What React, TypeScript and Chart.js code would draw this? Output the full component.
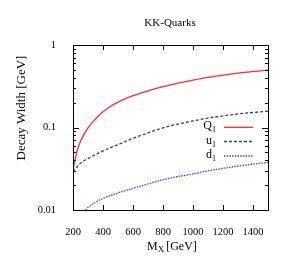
import React, { useEffect, useRef } from "react";
import { Chart, registerables } from "chart.js";

Chart.register(...registerables);

const chartTitle = "KK-Quarks";
const yAxisTitle = "Decay Width [GeV]";
const xTickValues = [200, 400, 600, 800, 1000, 1200, 1400];
const yLabelValues = [0.01, 0.1, 1];

const massQ = [200, 225, 250, 300, 350, 400, 450, 500, 600, 700, 800, 900, 1000, 1100, 1200, 1300, 1400, 1500];
const q1Width = [0.031, 0.05, 0.068, 0.099, 0.127, 0.155, 0.18, 0.203, 0.243, 0.278, 0.312, 0.345, 0.375, 0.405, 0.432, 0.457, 0.477, 0.495];
const u1Width = [0.029, 0.033, 0.037, 0.042, 0.047, 0.052, 0.057, 0.062, 0.074, 0.086, 0.099, 0.11, 0.12, 0.13, 0.138, 0.146, 0.152, 0.158];

const massD = [270, 300, 350, 400, 500, 600, 700, 800, 900, 1000, 1100, 1200, 1300, 1400, 1500];
const d1Width = [0.0095, 0.0107, 0.0124, 0.0138, 0.0161, 0.0183, 0.0207, 0.0233, 0.0254, 0.0274, 0.0298, 0.032, 0.0341, 0.036, 0.0377];

const seriesNames = ["Q", "u", "d"];
const seriesColors = ["#ff2a2a", "#404040", "#3a3aff"];
const seriesDash = [[], [3, 2], [1.5, 1.2]];

const serif = "'Liberation Serif', 'Times New Roman', serif";

const framePlugin = {
  id: "framePlugin",
  afterDraw(chart: any) {
    const { ctx, chartArea, scales } = chart;
    const { left, right, top, bottom } = chartArea;
    const xs = scales.x;
    const ys = scales.y;
    ctx.save();
    ctx.strokeStyle = "#000";
    ctx.lineWidth = 1;
    ctx.setLineDash([]);
    ctx.strokeRect(Math.round(left) + 0.5, Math.round(top) + 0.5, Math.round(right - left), Math.round(bottom - top));
    ctx.beginPath();
    for (const v of xTickValues) {
      const px = Math.round(xs.getPixelForValue(v)) + 0.5;
      ctx.moveTo(px, bottom);
      ctx.lineTo(px, bottom - 5);
      ctx.moveTo(px, top);
      ctx.lineTo(px, top + 5);
    }
    for (const d of [0.01, 0.1]) {
      for (let k = 1; k <= 9; k++) {
        const v = d * k;
        const py = Math.round(ys.getPixelForValue(v)) + 0.5;
        const len = k === 1 ? 6 : 3;
        ctx.moveTo(left, py);
        ctx.lineTo(left + len, py);
        ctx.moveTo(right, py);
        ctx.lineTo(right - len, py);
      }
    }
    ctx.stroke();

    ctx.fillStyle = "#000";
    ctx.textBaseline = "middle";
    ctx.textAlign = "center";
    ctx.font = `11px ${serif}`;
    ctx.fillText(chartTitle, 170, 23.5);

    // x title with subscript
    ctx.textAlign = "left";
    ctx.font = `12px ${serif}`;
    let x0 = 147;
    ctx.fillText("M", x0, 246.5);
    x0 += ctx.measureText("M").width;
    ctx.font = `9px ${serif}`;
    ctx.fillText("X", x0, 250);
    x0 += ctx.measureText("X").width + 2;
    ctx.font = `12px ${serif}`;
    ctx.fillText("[GeV]", x0, 246.5);

    // y title
    ctx.save();
    ctx.translate(22, 108);
    ctx.rotate(-Math.PI / 2);
    ctx.textAlign = "center";
    ctx.font = `13px ${serif}`;
    ctx.fillText(yAxisTitle, 0, 0);
    ctx.restore();

    // legend
    const rowsY = [127.3, 141.5, 156];
    for (let i = 0; i < seriesNames.length; i++) {
      const y = rowsY[i];
      ctx.font = `12px ${serif}`;
      ctx.textAlign = "right";
      const subW = 4;
      ctx.fillText(seriesNames[i], 216 - subW, y - 1);
      ctx.font = `8px ${serif}`;
      ctx.textAlign = "left";
      ctx.fillText("1", 216 - subW, y + 3);
      ctx.strokeStyle = seriesColors[i];
      ctx.lineWidth = 1.3;
      ctx.setLineDash(seriesDash[i]);
      ctx.beginPath();
      ctx.moveTo(224, y);
      ctx.lineTo(253, y);
      ctx.stroke();
    }
    ctx.restore();
  },
};

export default function App() {
  const canvasRef = useRef<HTMLCanvasElement | null>(null);

  useEffect(() => {
    if (!canvasRef.current) return;
    const toPts = (xs: number[], ys: number[]) => xs.map((x, i) => ({ x, y: ys[i] }));
    const chart = new Chart(canvasRef.current, {
      type: "line",
      data: {
        datasets: [
          { label: "Q1", data: toPts(massQ, q1Width), borderColor: seriesColors[0], borderWidth: 1.3, borderDash: seriesDash[0], pointRadius: 0, cubicInterpolationMode: "monotone", fill: false },
          { label: "u1", data: toPts(massQ, u1Width), borderColor: seriesColors[1], borderWidth: 1.3, borderDash: seriesDash[1], pointRadius: 0, cubicInterpolationMode: "monotone", fill: false },
          { label: "d1", data: toPts(massD, d1Width), borderColor: seriesColors[2], borderWidth: 1.3, borderDash: seriesDash[2], pointRadius: 0, cubicInterpolationMode: "monotone", fill: false },
        ],
      },
      options: {
        responsive: false,
        animation: false,
        layout: { padding: { top: 45, right: 16, left: 0, bottom: 0 } },
        plugins: { legend: { display: false }, title: { display: false }, tooltip: { enabled: false } },
        scales: {
          x: {
            type: "linear",
            min: 200,
            max: 1500,
            grid: { display: false },
            border: { display: false },
            afterBuildTicks: (s: any) => {
              s.ticks = xTickValues.map((v) => ({ value: v }));
            },
            ticks: {
              autoSkip: false,
              maxRotation: 0,
              padding: 8,
              color: "#000",
              font: { family: serif, size: 10.5 },
              callback: (v: any) => String(Math.round(Number(v))),
            },
            afterFit: (s: any) => { s.height = 63; },
          },
          y: {
            type: "logarithmic",
            min: 0.01,
            max: 1,
            grid: { display: false },
            border: { display: false },
            afterBuildTicks: (s: any) => {
              s.ticks = yLabelValues.map((v) => ({ value: v }));
            },
            ticks: {
              autoSkip: false,
              padding: 9,
              color: "#000",
              font: { family: serif, size: 10.5 },
              callback: (v: any) => {
                const n = Number(v);
                const hit = yLabelValues.find((t) => Math.abs(t - n) / t < 1e-6);
                return hit !== undefined ? String(hit) : "";
              },
            },
            afterFit: (s: any) => { s.width = 73; },
          },
        },
      },
      plugins: [framePlugin],
    } as any);
    return () => chart.destroy();
  }, []);

  return (
    <div style={{ position: "absolute", left: 0, top: 0, width: 284, height: 273, background: "#fff" }}>
      <canvas ref={canvasRef} width={284} height={273} />
    </div>
  );
}
